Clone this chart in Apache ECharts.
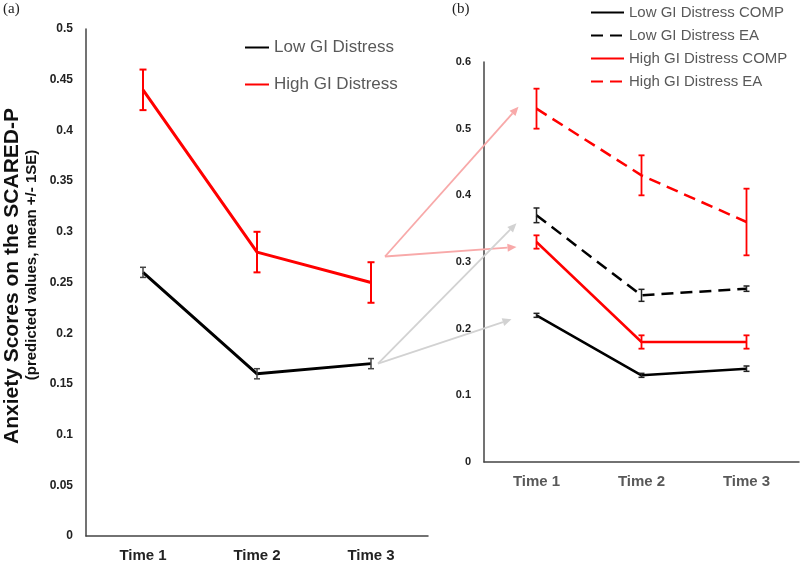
<!DOCTYPE html>
<html>
<head>
<meta charset="utf-8">
<script src="https://cdn.jsdelivr.net/npm/echarts@6/dist/echarts.min.js"></script>
<style>
html,body{margin:0;padding:0;background:#fff;}
#main{width:800px;height:563px;}
</style>
</head>
<body>
<div id="main"></div>
<script>
// ---- data ----
const categories = ['Time 1', 'Time 2', 'Time 3'];
// panel (a)
const lowGI = [0.26, 0.16, 0.17];
const lowGIErr = [0.005, 0.005, 0.005];
const highGI = [0.44, 0.28, 0.25];
const highGIErr = [0.02, 0.02, 0.02];
// panel (b)
const lowComp = [0.22, 0.13, 0.14];
const lowCompErr = [0.003, 0.003, 0.004];
const lowEA = [0.37, 0.25, 0.26];
const lowEAErr = [0.011, 0.009, 0.004];
const highComp = [0.33, 0.18, 0.18];
const highCompErr = [0.01, 0.01, 0.01];
const highEA = [0.53, 0.43, 0.36];
const highEAErr = [0.03, 0.03, 0.05];

const FONT = '"Liberation Sans", Arial, sans-serif';
const RED = '#ff0000';
const BLACK = '#000000';

function errSeries(ax, vals, errs, color, capW, lw) {
  return {
    type: 'custom', xAxisIndex: ax, yAxisIndex: ax, silent: true, z: 5,
    encode: { x: 0, y: [1, 2] },
    data: vals.map((v, i) => [i, v - errs[i], v + errs[i]]),
    renderItem: function (params, api) {
      const lo = api.coord([api.value(0), api.value(1)]);
      const hi = api.coord([api.value(0), api.value(2)]);
      const w = capW / 2;
      const st = { stroke: color, lineWidth: lw };
      return {
        type: 'group', children: [
          { type: 'line', shape: { x1: lo[0], y1: lo[1], x2: hi[0], y2: hi[1] }, style: st },
          { type: 'line', shape: { x1: lo[0] - w, y1: lo[1], x2: lo[0] + w, y2: lo[1] }, style: st },
          { type: 'line', shape: { x1: hi[0] - w, y1: hi[1], x2: hi[0] + w, y2: hi[1] }, style: st }
        ]
      };
    }
  };
}

function lineSeries(name, ax, vals, color, width, dash) {
  return {
    name: name, type: 'line', xAxisIndex: ax, yAxisIndex: ax,
    data: vals, symbol: 'none', showSymbol: false, z: 4,
    lineStyle: { color: color, width: width, type: dash || 'solid' },
    itemStyle: { color: color }
  };
}

const chart = echarts.init(document.getElementById('main'), null, { renderer: 'canvas' });

const option = {
  backgroundColor: '#ffffff',
  animation: false,
  grid: [
    { left: 86, top: 29, width: 342, height: 507 },
    { left: 484, top: 62, width: 315, height: 400 }
  ],
  xAxis: [
    {
      type: 'category', gridIndex: 0, data: categories,
      axisLine: { lineStyle: { color: '#444', width: 1.5 } },
      axisTick: { show: false },
      axisLabel: { color: '#222', fontWeight: 'bold', fontSize: 15, fontFamily: FONT, margin: 12 }
    },
    {
      type: 'category', gridIndex: 1, data: categories,
      axisLine: { lineStyle: { color: '#444', width: 1.5 } },
      axisTick: { show: false },
      axisLabel: { color: '#595959', fontWeight: 'bold', fontSize: 15, fontFamily: FONT, margin: 12 }
    }
  ],
  yAxis: [
    {
      type: 'value', gridIndex: 0, min: 0, max: 0.5, interval: 0.05,
      axisLine: { show: true, lineStyle: { color: '#444', width: 1.5 } },
      axisTick: { show: false },
      splitLine: { show: false },
      axisLabel: { color: '#222', fontWeight: 'bold', fontSize: 12, fontFamily: FONT, margin: 13 }
    },
    {
      type: 'value', gridIndex: 1, min: 0, max: 0.6, interval: 0.1,
      axisLine: { show: true, lineStyle: { color: '#444', width: 1.5 } },
      axisTick: { show: false },
      splitLine: { show: false },
      axisLabel: { color: '#222', fontWeight: 'bold', fontSize: 11, fontFamily: FONT, margin: 13 }
    }
  ],
  legend: [
    {
      data: ['Low GI Distress', 'High GI Distress'],
      orient: 'vertical', left: 244, top: 39, padding: 0,
      itemWidth: 24, itemHeight: 14, itemGap: 20,
      itemStyle: { opacity: 0 },
      textStyle: { fontSize: 17, color: '#595959', fontFamily: FONT }
    },
    {
      data: ['Low GI Distress COMP', 'Low GI Distress EA', 'High GI Distress COMP', 'High GI Distress EA'],
      orient: 'vertical', left: 590, top: 5, padding: 0,
      itemWidth: 33, itemHeight: 14, itemGap: 8,
      itemStyle: { opacity: 0 },
      textStyle: { fontSize: 15, color: '#595959', fontFamily: FONT }
    }
  ],
  series: [
    lineSeries('Low GI Distress', 0, lowGI, BLACK, 3),
    lineSeries('High GI Distress', 0, highGI, RED, 3),
    errSeries(0, lowGI, lowGIErr, '#444', 6, 1.5),
    errSeries(0, highGI, highGIErr, RED, 7, 2),
    lineSeries('Low GI Distress COMP', 1, lowComp, BLACK, 2.5),
    lineSeries('Low GI Distress EA', 1, lowEA, BLACK, 2.5, [12, 7]),
    lineSeries('High GI Distress COMP', 1, highComp, RED, 2.5),
    lineSeries('High GI Distress EA', 1, highEA, RED, 2.5, [12, 7]),
    errSeries(1, lowComp, lowCompErr, '#222', 6, 1.5),
    errSeries(1, lowEA, lowEAErr, '#222', 6, 1.5),
    errSeries(1, highComp, highCompErr, RED, 6, 1.8),
    errSeries(1, highEA, highEAErr, RED, 6, 1.8)
  ]
};
chart.setOption(option);

// ---- annotation arrows linking panel (a) Time 3 to panel (b) Time 1 ----
function px(ax, ci, v, off) {
  const p = chart.convertToPixel({ xAxisIndex: ax, yAxisIndex: ax }, [ci, v]);
  return [p[0] + off[0], p[1] + off[1]];
}
function arrow(a, b, color) {
  const dx = b[0] - a[0], dy = b[1] - a[1];
  const len = Math.sqrt(dx * dx + dy * dy);
  const ux = dx / len, uy = dy / len;
  const hl = 9, hw = 4;
  const bx = b[0] - ux * hl, by = b[1] - uy * hl;
  return [
    { type: 'line', silent: true, z: 1, shape: { x1: a[0], y1: a[1], x2: bx, y2: by }, style: { stroke: color, lineWidth: 1.8 } },
    { type: 'polygon', silent: true, z: 1, shape: { points: [[b[0], b[1]], [bx - uy * hw, by + ux * hw], [bx + uy * hw, by - ux * hw]] }, style: { fill: color } }
  ];
}
const PINK = '#f8a9a9';
const GREY = '#d2d2d2';
const pinkStart = px(0, 2, highGI[2], [14, -26]);
const greyStart = px(0, 2, lowGI[2], [7, 0]);
const arrows = []
  .concat(arrow(pinkStart, px(1, 0, highEA[0], [-18, -2]), PINK))
  .concat(arrow(pinkStart, px(1, 0, highComp[0], [-20, 5]), PINK))
  .concat(arrow(greyStart, px(1, 0, lowEA[0], [-20, 8]), GREY))
  .concat(arrow(greyStart, px(1, 0, lowComp[0], [-25, 4]), GREY));

const texts = [
  { type: 'text', left: 3, top: 2, style: { text: '(a)', font: '15px "Liberation Serif", "Times New Roman", serif', fill: '#222' } },
  { type: 'text', left: 452, top: 2, style: { text: '(b)', font: '15px "Liberation Serif", "Times New Roman", serif', fill: '#222' } },
  { type: 'text', x: 12, y: 276, rotation: Math.PI / 2, style: { text: 'Anxiety Scores on the SCARED-P', font: 'bold 21px ' + FONT, fill: '#111', align: 'center', verticalAlign: 'middle' } },
  { type: 'text', x: 32, y: 265, rotation: Math.PI / 2, style: { text: '(predicted values, mean +/- 1SE)', font: 'bold 15px ' + FONT, fill: '#111', align: 'center', verticalAlign: 'middle' } }
];

chart.setOption({ graphic: arrows.concat(texts) });
</script>
</body>
</html>
